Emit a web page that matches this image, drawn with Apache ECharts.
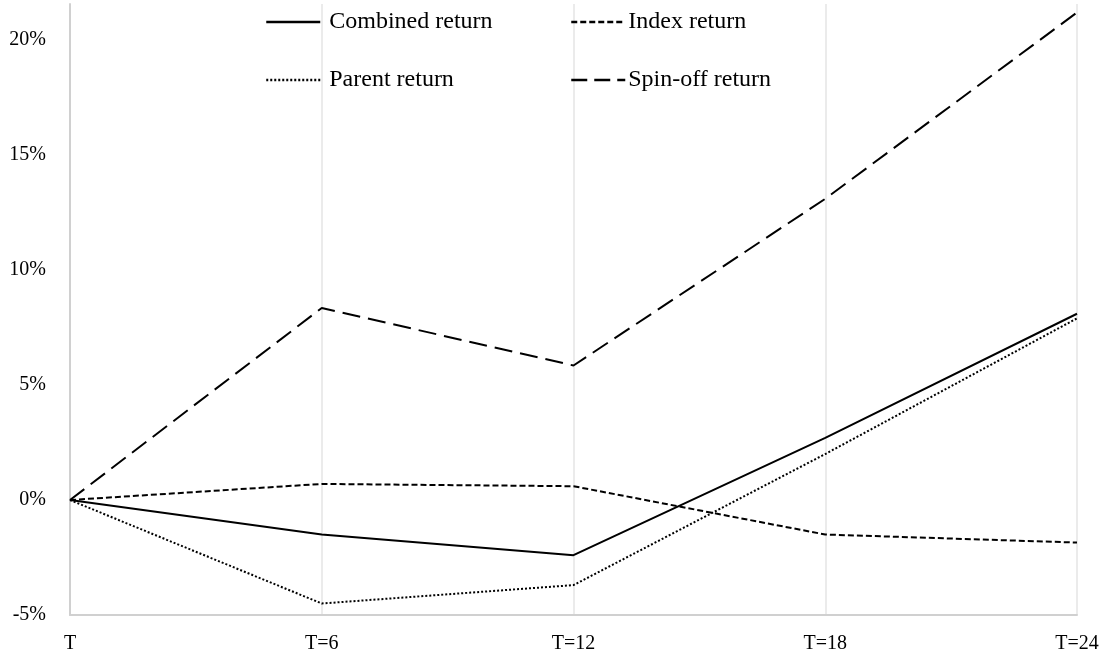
<!DOCTYPE html>
<html>
<head>
<meta charset="utf-8">
<script src="https://cdn.jsdelivr.net/npm/echarts@6/dist/echarts.min.js"></script>
<style>
  html, body { margin: 0; padding: 0; background: #fff; }
  #chart { width: 1104px; height: 654px; }
</style>
</head>
<body>
<div id="chart"></div>
<script>
// 横轴类别
const categories = ['T', 'T=6', 'T=12', 'T=18', 'T=24']
// 各序列收益（%）
const combinedReturn = [0, -1.5, -2.4, 2.7, 8.1]
const indexReturn = [0, 0.7, 0.6, -1.5, -1.85]
const parentReturn = [0, -4.5, -3.7, 2.0, 7.9]
const spinoffReturn = [0, 8.35, 5.85, 13.1, 21.2]
// 纵轴刻度
const yTicks = [-5, 0, 5, 10, 15, 20]

const FONT = '"Liberation Serif", "DejaVu Serif", serif'

const chart = echarts.init(document.getElementById('chart'))

const mkSeries = (name, data, type) => ({
  name: name,
  type: 'line',
  data: data,
  symbol: 'none',
  smooth: false,
  silent: true,
  lineStyle: { color: '#000', width: 2, type: type, cap: 'butt' },
  itemStyle: { color: '#000' }
})

// 图例：每项单独定位，隐藏圆点只留线
const mkLegend = (name, left, top, dash, pad) => ({
  data: [name],
  left: left,
  top: top,
  itemWidth: 54,
  itemHeight: 14,
  itemGap: 2,
  selectedMode: false,
  itemStyle: { opacity: 0 },
  lineStyle: { width: 2.5, color: '#000', type: dash },
  textStyle: { fontFamily: FONT, fontSize: 24, color: '#000', padding: [0, 0, 0, pad] }
})

const option = {
  animation: false,
  backgroundColor: '#fff',
  legend: [
    mkLegend('Combined return', 260, 5, 'solid', 4),
    mkLegend('Index return', 565, 5, [6, 3], -2),
    mkLegend('Parent return', 260, 63, [2, 2], 4),
    mkLegend('Spin-off return', 565, 63, [16, 7], -2)
  ],
  grid: { left: 70, right: 27, top: 4, bottom: 39, containLabel: false },
  xAxis: {
    type: 'category',
    data: categories,
    boundaryGap: false,
    axisLine: { show: true, onZero: false, lineStyle: { color: '#d0d0d0', width: 2 } },
    axisTick: { show: false },
    axisLabel: { color: '#000', fontFamily: FONT, fontSize: 20, margin: 19 },
    splitLine: { show: true, lineStyle: { color: '#ebebeb', width: 2 } }
  },
  yAxis: {
    type: 'value',
    min: -5,
    max: 21.57,
    interval: 5,
    axisLine: { show: true, lineStyle: { color: '#d0d0d0', width: 2 } },
    axisTick: { show: false },
    splitLine: { show: false },
    axisLabel: {
      color: '#000',
      fontFamily: FONT,
      fontSize: 20,
      margin: 24,
      showMaxLabel: false,
      formatter: v => (yTicks.indexOf(Math.round(v)) >= 0 && Math.abs(v - Math.round(v)) < 1e-6) ? Math.round(v) + '%' : ''
    }
  },
  series: [
    mkSeries('Combined return', combinedReturn, 'solid'),
    mkSeries('Index return', indexReturn, [6, 3]),
    mkSeries('Parent return', parentReturn, [2, 2]),
    mkSeries('Spin-off return', spinoffReturn, [18, 8])
  ]
}

chart.setOption(option)
</script>
</body>
</html>
